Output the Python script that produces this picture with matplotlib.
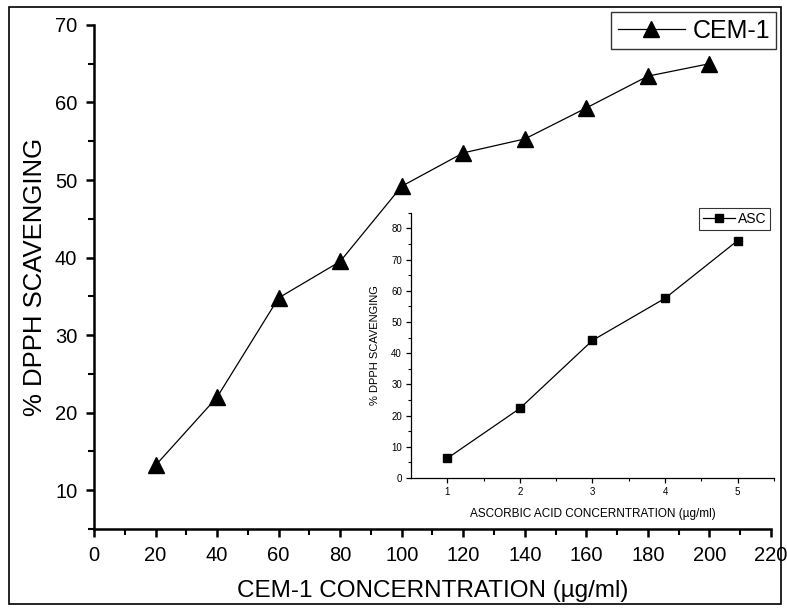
import numpy as np
import matplotlib
matplotlib.use("Agg")
import matplotlib.pyplot as plt
from matplotlib.patches import Rectangle

plt.rcParams['font.family'] = ['Liberation Sans', 'DejaVu Sans']

# main series: CEM-1
cem_conc = [20, 40, 60, 80, 100, 120, 140, 160, 180, 200]
cem_scav = [13.2, 22.0, 34.8, 39.5, 49.2, 53.5, 55.3, 59.3, 63.4, 65.0]

# inset series: ascorbic acid
asc_conc = [1, 2, 3, 4, 5]
asc_scav = [6.3, 22.3, 44.1, 57.6, 76.1]

fig = plt.figure(figsize=(7.87, 6.11), dpi=100)

# frame round the whole picture
fig.patches.append(Rectangle((9 / 787, 7 / 611), 772 / 787, 597 / 611,
                             transform=fig.transFigure, fill=False,
                             edgecolor='black', linewidth=1.2))

# ----------- main axes ------------- #
ax = fig.add_axes([0.1194, 0.1342, 0.8603, 0.825])
ax.plot(cem_conc, cem_scav, color='black', linewidth=0.9,
        marker='^', markersize=11, markerfacecolor='black', label='CEM-1')
ax.set_xlim(0, 220)
ax.set_ylim(5, 70)
ax.set_xticks(np.arange(0, 221, 20))
ax.set_xticks(np.arange(10, 221, 20), minor=True)
ax.set_yticks(np.arange(10, 71, 10))
ax.set_yticks(np.arange(5, 71, 10), minor=True)
for side in ['top', 'right']:
    ax.spines[side].set_visible(False)
for side in ['left', 'bottom']:
    ax.spines[side].set_linewidth(1.8)
ax.tick_params(which='major', direction='out', length=6, width=1.8,
               labelsize=14.5, pad=6)
ax.tick_params(which='minor', direction='out', length=4, width=1.5)
ax.set_xlabel('CEM-1 CONCERNTRATION (µg/ml)', fontsize=17.5, labelpad=11)
ax.set_ylabel('% DPPH SCAVENGING', fontsize=18.5, labelpad=6)
leg = ax.legend(loc='upper right', bbox_to_anchor=(1.008, 1.025), fontsize=18,
                frameon=True, fancybox=False, handlelength=2.7,
                borderpad=0.25, handletextpad=0.3, borderaxespad=0)
leg.get_frame().set_edgecolor('black')
leg.get_frame().set_linewidth(1.0)

# ----------- inset axes ------------- #
ins = fig.add_axes([0.5222, 0.2177, 0.4612, 0.434])
ins.plot(asc_conc, asc_scav, color='black', linewidth=0.9,
         marker='s', markersize=5.5, markerfacecolor='black', label='ASC')
ins.set_xlim(0.5, 5.5)
ins.set_ylim(0, 85)
ins.set_xticks(asc_conc)
ins.set_xticks(np.arange(1.5, 5.6, 1), minor=True)
ins.set_yticks(np.arange(0, 81, 10))
ins.set_yticks(np.arange(5, 86, 10), minor=True)
for side in ['top', 'right']:
    ins.spines[side].set_visible(False)
for side in ['left', 'bottom']:
    ins.spines[side].set_linewidth(0.9)
ins.tick_params(which='major', direction='out', length=3.5, width=0.9,
                labelsize=7, pad=3)
ins.tick_params(which='minor', direction='out', length=2, width=0.8)
ins.set_xlabel('ASCORBIC ACID CONCERNTRATION (µg/ml)', fontsize=8.5, labelpad=8)
ins.set_ylabel('% DPPH SCAVENGING', fontsize=8, labelpad=8)
ileg = ins.legend(loc='upper right', bbox_to_anchor=(0.99, 1.02), fontsize=10,
                  frameon=True, fancybox=False, handlelength=2.3,
                  borderpad=0.3, handletextpad=0.2, borderaxespad=0)
ileg.get_frame().set_edgecolor('black')
ileg.get_frame().set_linewidth(0.8)

fig.savefig('out.png', dpi=100)
